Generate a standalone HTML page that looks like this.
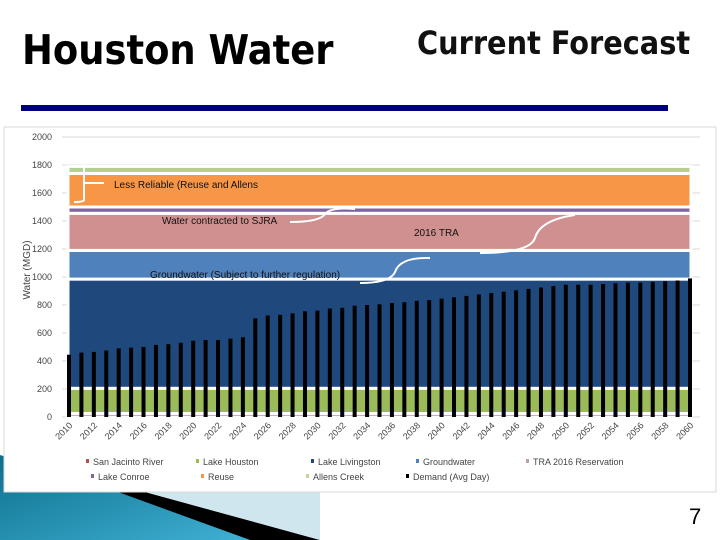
<!DOCTYPE html>
<html><head><meta charset="utf-8"><style>
body{margin:0;width:720px;height:540px;background:#fff;overflow:hidden;font-family:"Liberation Sans",sans-serif;position:relative}
.t{position:absolute;font-family:"DejaVu Sans Condensed","Liberation Sans",sans-serif;font-weight:bold;color:#000}
</style></head><body>
<svg width="720" height="540" style="position:absolute;left:0;top:0">
<defs><linearGradient id="g" x1="0" y1="0" x2="1" y2="1"><stop offset="0" stop-color="#0d6f8c"/><stop offset="1" stop-color="#3fb0d3"/></linearGradient></defs>
<polygon points="0,455 120,492 250,540 0,540" fill="url(#g)"/>
<polygon points="118,492 145,492 320,540 250,540" fill="#000"/>
<polygon points="145,492 320,492 320,540" fill="#cfe6ee"/>
</svg>
<div class="t" style="left:22px;top:26px;font-size:41px">Houston Water</div>
<div class="t" style="left:417px;top:24px;font-size:32px;color:#111">Current Forecast</div>
<div style="position:absolute;left:21px;top:105px;width:647px;height:6px;background:#00007f"></div>
<div style="position:absolute;left:689px;top:504px;font-size:22px">7</div>
<svg id="c" width="720" height="540" style="position:absolute;left:0;top:0"></svg>
<script>
const years=[];for(let y=2010;y<=2060;y++)years.push(y);
const layerNames=["San Jacinto River","Lake Houston","Lake Livingston","Groundwater","TRA 2016 Reservation","Lake Conroe","Reuse","Allens Creek"];
const layerValues=[25,180,780,205,265,45,240,50];
const layerColors=["#b5514f","#9bbb59","#1f497d","#4f81bd","#d09090","#8064a2","#f79646","#b5cf92"];
const demand=[445,460,465,475,490,495,500,515,520,530,545,550,550,560,570,705,725,730,740,755,760,775,780,795,800,805,815,820,830,835,845,855,865,875,885,895,905,915,925,935,945,945,945,950,955,960,960,965,970,975,990];
const yTicks=[0,200,400,600,800,1000,1200,1400,1600,1800,2000];
const xLabelYears=years.filter(y=>y%2==0);
const svg=document.getElementById('c');const NS="http://www.w3.org/2000/svg";
const x0=69,x1=690,yb=417,yt=137;
const X=i=>x0+(x1-x0)*i/(years.length-1);
const Y=v=>yb-(yb-yt)*v/2000;
function mk(t,a,p){const e=document.createElementNS(NS,t);for(const k in a)e.setAttribute(k,a[k]);(p||svg).appendChild(e);return e;}
const box=mk('rect',{x:4,y:127,width:712,height:365,fill:'#fff',stroke:'#d9d9d9'});


yTicks.forEach(v=>{const l=mk('line',{x1:62,x2:700,y1:Y(v),y2:Y(v),stroke:'#d9d9d9'});


const t=mk('text',{x:52,y:Y(v)+3,'font-size':9,'text-anchor':'end',fill:'#444'});t.textContent=v;

});
let cum=0;
layerValues.forEach((v,i)=>{const r=mk('rect',{x:X(0)-1,y:Y(cum+v),width:X(years.length-1)-X(0)+2,height:Y(cum)-Y(cum+v),fill:layerColors[i],stroke:'#fff','stroke-width':3});

cum+=v;});
demand.forEach((v,i)=>{const b=mk('rect',{x:X(i)-2,y:Y(v),width:4,height:yb-Y(v),fill:'#000'});

});
xLabelYears.forEach(y=>{const i=years.indexOf(y);const t=mk('text',{x:X(i)+4,y:426,'font-size':9,'text-anchor':'end',fill:'#444',transform:`rotate(-45 ${X(i)+4} 426)`});t.textContent=y;

});
const yt2=mk('text',{x:30,y:270,'font-size':10,'text-anchor':'middle',fill:'#444',transform:'rotate(-90 30 270)'});yt2.textContent='Water (MGD)';


const ann=[["Less Reliable (Reuse and Allens",114,188],["Water contracted to SJRA",162,224],["2016 TRA",414,236],["Groundwater (Subject to further regulation)",150,278]];
ann.forEach(a=>{const t=mk('text',{x:a[1],y:a[2],'font-size':10,fill:'#111'});t.textContent=a[0];

});
const arrows=["M84,160 Q74,160 84,162 L84,200 Q84,202 74,202","M84,183 L104,183","M290,222 Q320,222 325,214 Q330,207 355,209","M360,283 Q390,283 395,272 Q400,257 430,258","M480,253 Q530,253 535,238 Q540,220 575,215"];
arrows.forEach(d=>{const p=mk('path',{d:d,fill:'none',stroke:'#fff','stroke-width':2});

});
const leg=[["San Jacinto River",90,465,"#b5514f"],["Lake Houston",200,465,"#9bbb59"],["Lake Livingston",315,465,"#1f497d"],["Groundwater",420,465,"#4f81bd"],["TRA 2016 Reservation",530,465,"#c0a0a8"],["Lake Conroe",95,480,"#8064a2"],["Reuse",205,480,"#f79646"],["Allens Creek",310,480,"#c4d79b"],["Demand (Avg Day)",410,480,"#000"]];
leg.forEach(l=>{const g=mk('g',{});


mk('rect',{x:l[1]-4,y:l[2]-6,width:3,height:4,fill:l[3]},g);
const t=mk('text',{x:l[1]+3,y:l[2],'font-size':9,fill:'#444'},g);t.textContent=l[0];});
</script>
</body></html>
